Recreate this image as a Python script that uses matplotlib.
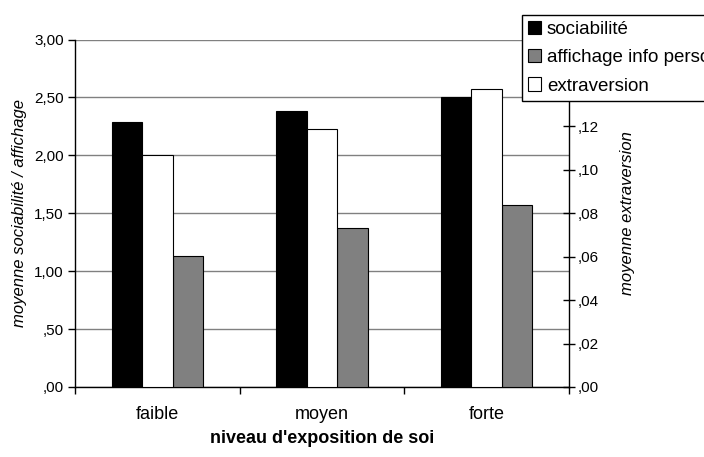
import numpy as np
import matplotlib
matplotlib.use("Agg")
import matplotlib.pyplot as plt
from matplotlib.ticker import FuncFormatter

plt.rcParams["font.family"] = ["Liberation Sans", "DejaVu Sans"]

# -----------------------------
# Data
# -----------------------------
categories = ["faible", "moyen", "forte"]
sociabilite = [2.29, 2.38, 2.50]
affichage = [1.13, 1.37, 1.57]
extraversion = [0.107, 0.119, 0.137]

left_ticks = [0.0, 0.5, 1.0, 1.5, 2.0, 2.5, 3.0]
# ,14 and ,16 sit under the legend in the original
right_ticks = [0.0, 0.02, 0.04, 0.06, 0.08, 0.10, 0.12]


def fr_fmt(v, _pos=None):
    s = f"{v:.2f}".replace(".", ",")
    return s[1:] if s.startswith("0") else s


fig = plt.figure(figsize=(7.04, 4.57), dpi=100)
ax = fig.add_axes([75 / 704, 1 - 387 / 457, 494 / 704, 347.5 / 457])
ax2 = ax.twinx()

x = np.arange(len(categories))
w = 0.185

ax.bar(x - w, sociabilite, w, color="black", edgecolor="black", linewidth=0.8,
       label="sociabilité", zorder=3)
ax.bar(x + w, affichage, w, color="#808080", edgecolor="black", linewidth=0.8,
       label="affichage info perso", zorder=3)
ax2.bar(x, extraversion, w, color="white", edgecolor="black", linewidth=0.8,
        label="extraversion", zorder=3)

# left axis
ax.set_xlim(-0.5, 2.5)
ax.set_ylim(0, 3.0)
ax.set_yticks(left_ticks)
ax.yaxis.set_major_formatter(FuncFormatter(fr_fmt))
ax.yaxis.grid(True, color="#808080", linewidth=1)
ax.set_axisbelow(True)
ax.tick_params(axis="y", direction="out", length=5, width=1, labelsize=11, pad=3)

# category boundaries as ticks, labels in the middle
ax.set_xticks([-0.5, 0.5, 1.5, 2.5])
ax.set_xticklabels([])
ax.tick_params(axis="x", which="major", direction="out", length=5, width=1)
ax.set_xticks(x, minor=True)
ax.set_xticklabels(categories, minor=True, fontsize=13)
ax.tick_params(axis="x", which="minor", length=0, pad=14)

for side in ["top", "right"]:
    ax.spines[side].set_visible(False)
ax.spines["left"].set_linewidth(1)
ax.spines["bottom"].set_linewidth(1)

ax.set_ylabel("moyenne sociabilité / affichage", fontsize=12, style="italic",
              labelpad=5)
ax.set_xlabel("niveau d'exposition de soi", fontsize=13, fontweight="bold",
              labelpad=5)

# right axis
ax2.set_ylim(0, 0.16)
ax2.set_yticks(right_ticks)
ax2.yaxis.set_major_formatter(FuncFormatter(fr_fmt))
ax2.tick_params(axis="y", direction="inout", length=9, width=1, labelsize=11, pad=2)
for side in ["top", "left", "bottom"]:
    ax2.spines[side].set_visible(False)
ax2.spines["right"].set_linewidth(1)
ax2.set_ylabel("moyenne extraversion", fontsize=12, style="italic", labelpad=15)

# legend (runs off the right edge as in the original)
h1, l1 = ax.get_legend_handles_labels()
h2, l2 = ax2.get_legend_handles_labels()
leg = fig.legend(h1 + h2, l1 + l2, loc="upper left",
                 bbox_to_anchor=(522 / 704, 1 - 14.7 / 457),
                 fontsize=13.5, frameon=True, fancybox=False, framealpha=1,
                 edgecolor="black", handlelength=0.7, handleheight=0.7,
                 handletextpad=0.3, labelspacing=0.6, borderpad=0.32,
                 borderaxespad=0)
leg.get_frame().set_linewidth(1)

fig.savefig("out.png", dpi=100)
